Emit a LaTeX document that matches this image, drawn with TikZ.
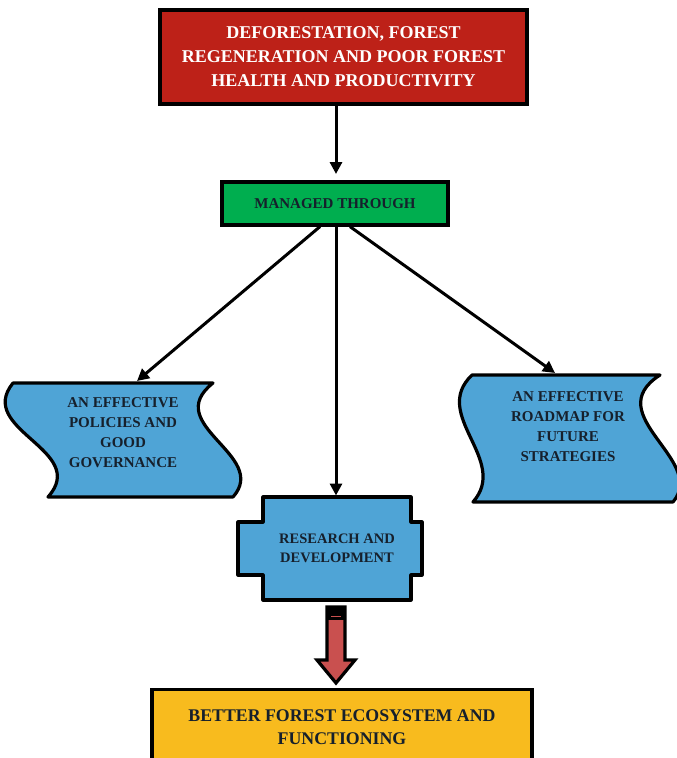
\documentclass[tikz,border=0pt]{standalone}
\usepackage{fontspec}
\setmainfont{Liberation Serif}
\usetikzlibrary{arrows.meta}
\definecolor{probred}{RGB}{189,33,24}
\definecolor{mgreen}{RGB}{0,174,79}
\definecolor{wblue}{RGB}{79,164,214}
\definecolor{outyellow}{RGB}{248,187,30}
\definecolor{barrow}{RGB}{201,80,79}
\definecolor{inkdark}{RGB}{22,32,44}
\tikzset{
  box/.style={draw=black, line width=3.2pt, rectangle, align=center, inner sep=0pt},
  shapeline/.style={draw=black, line width=3.2pt, line join=round},
  label/.style={align=center, text=inkdark, font=\bfseries\fontsize{15}{20}\selectfont},
  link/.style={line width=3pt, -{Triangle[length=12pt,width=12pt]}},
}
\begin{document}
\begin{tikzpicture}[x=1pt,y=-1pt]
\useasboundingbox (0,0) rectangle (677,758);

% problem statement
\node[box, fill=probred, text=white, minimum width=367pt, minimum height=94pt,
      font=\bfseries\fontsize{18}{24}\selectfont] (prob) at (343.5,57)
  {DEFORESTATION, FOREST\\REGENERATION AND POOR FOREST\\HEALTH AND PRODUCTIVITY};

% managed through
\node[box, fill=mgreen, text=inkdark, minimum width=226pt, minimum height=43pt,
      font=\bfseries\fontsize{15}{18}\selectfont] (mt) at (335,203.5) {MANAGED THROUGH};
\coordinate (mtin) at (336,174);

% left wave: policies
\path[shapeline, fill=wblue] (13,383) -- (213,383)
  .. controls (160,425) and (270,455) .. (233,497) -- (48,497)
  .. controls (90,450) and (-25,430) .. cycle;
\node[label] (pol) at (123,433) {AN EFFECTIVE\\POLICIES AND\\GOOD\\GOVERNANCE};
\coordinate (polin) at (137,381);

% right wave: roadmap
\path[shapeline, fill=wblue] (472,375) -- (660,375)
  .. controls (598,415) and (708,460) .. (673,502) -- (473,502)
  .. controls (510,460) and (430,415) .. cycle;
\node[label] (road) at (568,427) {AN EFFECTIVE\\ROADMAP FOR\\FUTURE\\STRATEGIES};
\coordinate (roadin) at (555,373);

% research and development
\path[shapeline, fill=wblue] (263,497) -- (411,497) -- (411,522) -- (422,522)
  -- (422,575) -- (411,575) -- (411,600) -- (263,600) -- (263,575) -- (238,575)
  -- (238,522) -- (263,522) -- cycle;
\node[label, font=\bfseries\fontsize{14.5}{19}\selectfont] (rd) at (337,548.5)
  {RESEARCH AND\\DEVELOPMENT};
\coordinate (rdin) at (336,495.5);

% outcome
\node[box, fill=outyellow, text=inkdark, minimum width=380pt, minimum height=75pt,
      anchor=north, font=\bfseries\fontsize{17.8}{23}\selectfont] (out) at (342,688)
  {BETTER FOREST ECOSYSTEM AND\\FUNCTIONING};

% connectors
\draw[link] (prob.south -| mtin) -- (mtin);
\draw[link] ([xshift=-15pt]mt.south) -- (polin);
\draw[link] (mt.south -| rdin) -- (rdin);
\draw[link] ([xshift=15pt]mt.south) -- (roadin);

% block arrow from research to outcome
\path[shapeline, fill=barrow, line join=miter] (327,607) -- (345,607) -- (345,660)
  -- (355,660) -- (336,683) -- (317,660) -- (327,660) -- cycle;
\fill[black] (327,607) rectangle (345,620);
\draw[barrow, line width=1pt] (331,616) -- (341,616);
\end{tikzpicture}
\end{document}
